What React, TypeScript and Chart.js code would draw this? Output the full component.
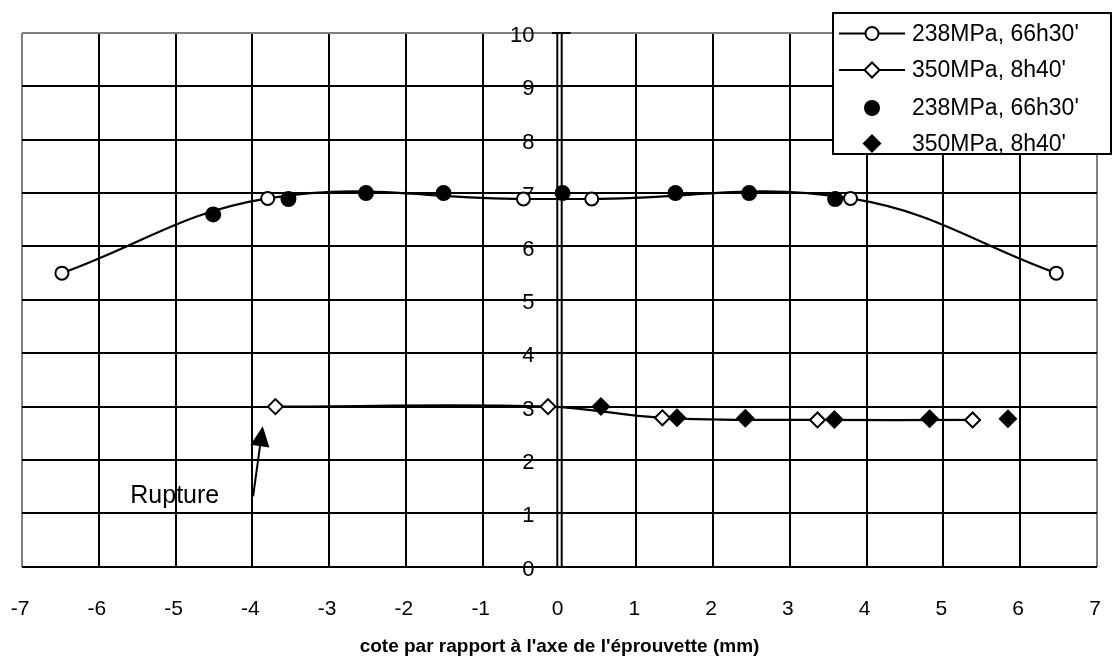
import React, { useEffect, useRef } from "react";
import { Chart, registerables } from "chart.js";

Chart.register(...registerables);

// ---- data ----
const openCircleX = [-6.48, -3.8, -0.47, 0.42, 3.79, 6.47];
const openCircleY = [5.5, 6.9, 6.89, 6.89, 6.9, 5.5];

const openDiamondX = [-3.7, -0.15, 1.34, 3.36, 5.38];
const openDiamondY = [3.0, 3.0, 2.79, 2.75, 2.75];

const filledCircleX = [-4.51, -3.53, -2.52, -1.51, 0.04, 1.51, 2.47, 3.59];
const filledCircleY = [6.6, 6.89, 7.0, 7.0, 7.0, 7.0, 7.0, 6.89];

const filledDiamondX = [0.54, 1.53, 2.42, 3.58, 4.82, 5.84];
const filledDiamondY = [3.0, 2.79, 2.78, 2.76, 2.77, 2.77];

const seriesLabels = ["238MPa, 66h30'", "350MPa, 8h40'", "238MPa, 66h30'", "350MPa, 8h40'"];

const xTickMin = -7;
const xTickMax = 7;
const yTickMin = 0;
const yTickMax = 10;

const xTitle = "cote par rapport à l'axe de l'éprouvette (mm)";
const annotationText = "Rupture";
// annotation anchors in data units
const annotationLabelAt = { x: -5.59, y: 1.2 };
const arrowFrom = { x: -3.99, y: 1.32 };
const arrowTo = { x: -3.865, y: 2.63 };

const FONT = "'Liberation Sans', Arial, Helvetica, sans-serif";

const zip = (xs: number[], ys: number[]) => xs.map((x, i) => ({ x, y: ys[i] }));

const overlayPlugin = {
  id: "overlay",
  beforeDatasetsDraw(chart: any) {
    const { ctx, scales, chartArea } = chart;
    const x = scales.x;
    const y = scales.y;
    const px = x.getPixelForValue(0);
    ctx.save();
    ctx.strokeStyle = "#000";
    ctx.lineWidth = 2;
    [px - 2.2, px + 2.2].forEach((xx) => {
      ctx.beginPath();
      ctx.moveTo(xx, chartArea.top);
      ctx.lineTo(xx, chartArea.bottom);
      ctx.stroke();
    });
    ctx.lineWidth = 2;
    for (let v = yTickMin; v <= yTickMax; v++) {
      const py = Math.round(y.getPixelForValue(v));
      ctx.beginPath();
      ctx.moveTo(px - 7.5, py);
      ctx.lineTo(px + 11, py);
      ctx.stroke();
    }
    // y tick labels, left of the central axis
    ctx.fillStyle = "#000";
    ctx.font = `22px ${FONT}`;
    ctx.textAlign = "right";
    ctx.textBaseline = "middle";
    y.ticks.forEach((t: any) => {
      ctx.fillText(String(t.value), px - 25, y.getPixelForValue(t.value) + 3);
    });
    ctx.restore();
  },
  afterDraw(chart: any) {
    const { ctx, scales } = chart;
    const x = scales.x;
    const y = scales.y;
    ctx.save();

    // ---- annotation ----
    ctx.fillStyle = "#000";
    ctx.font = `25px ${FONT}`;
    ctx.textBaseline = "alphabetic";
    ctx.textAlign = "left";
    ctx.fillText(annotationText, x.getPixelForValue(annotationLabelAt.x), y.getPixelForValue(annotationLabelAt.y));

    const ax0 = x.getPixelForValue(arrowFrom.x);
    const ay0 = y.getPixelForValue(arrowFrom.y);
    const ax1 = x.getPixelForValue(arrowTo.x);
    const ay1 = y.getPixelForValue(arrowTo.y);
    const ang = Math.atan2(ay1 - ay0, ax1 - ax0);
    const headLen = 20;
    const headHalf = 9.5;
    const bx = ax1 - headLen * Math.cos(ang);
    const by = ay1 - headLen * Math.sin(ang);
    ctx.strokeStyle = "#000";
    ctx.lineWidth = 2;
    ctx.beginPath();
    ctx.moveTo(ax0, ay0);
    ctx.lineTo(bx, by);
    ctx.stroke();
    ctx.beginPath();
    ctx.moveTo(ax1, ay1);
    ctx.lineTo(bx + headHalf * Math.sin(ang), by - headHalf * Math.cos(ang));
    ctx.lineTo(bx - headHalf * Math.sin(ang), by + headHalf * Math.cos(ang));
    ctx.closePath();
    ctx.fill();

    // ---- legend ----
    const lx = 833, ly = 13, lw = 278, lh = 141;
    ctx.fillStyle = "#fff";
    ctx.fillRect(lx, ly, lw, lh);
    ctx.strokeStyle = "#000";
    ctx.lineWidth = 2;
    ctx.strokeRect(lx, ly, lw, lh);
    const rows = [33.5, 70, 108, 143.5];
    const ds = chart.data.datasets;
    ds.forEach((d: any, i: number) => {
      const ry = rows[i];
      const mx = 872;
      if (d.showLine) {
        ctx.strokeStyle = "#000";
        ctx.lineWidth = 2;
        ctx.beginPath();
        ctx.moveTo(839, ry);
        ctx.lineTo(905, ry);
        ctx.stroke();
      }
      ctx.beginPath();
      const r = d.pointRadius;
      if (d.pointStyle === "circle") {
        ctx.arc(mx, ry, r, 0, Math.PI * 2);
      } else {
        ctx.moveTo(mx, ry - r);
        ctx.lineTo(mx + r, ry);
        ctx.lineTo(mx, ry + r);
        ctx.lineTo(mx - r, ry);
        ctx.closePath();
      }
      ctx.fillStyle = d.pointBackgroundColor;
      ctx.fill();
      if (d.pointBorderWidth > 0) {
        ctx.lineWidth = d.pointBorderWidth;
        ctx.strokeStyle = d.pointBorderColor;
        ctx.stroke();
      }
      ctx.fillStyle = "#000";
      ctx.font = `23px ${FONT}`;
      ctx.textBaseline = "middle";
      ctx.textAlign = "left";
      ctx.fillText(d.label, 912, ry + 1);
    });
    ctx.restore();
  },
};

const zeroPad = (s: any) => {
  s.paddingLeft = 0;
  s.paddingRight = 0;
  s.paddingTop = 0;
  s.paddingBottom = 0;
};

export default function App() {
  const ref = useRef<HTMLCanvasElement | null>(null);
  useEffect(() => {
    if (!ref.current) return;
    const chart = new Chart(ref.current, {
      type: "scatter",
      data: {
        datasets: [
          {
            label: seriesLabels[0],
            data: zip(openCircleX, openCircleY),
            showLine: true,
            tension: 0.4,
            borderColor: "#000",
            borderWidth: 2.2,
            pointStyle: "circle",
            pointRadius: 6.5,
            pointBackgroundColor: "#fff",
            pointBorderColor: "#000",
            pointBorderWidth: 2,
          },
          {
            label: seriesLabels[1],
            data: zip(openDiamondX, openDiamondY),
            showLine: true,
            tension: 0.4,
            borderColor: "#000",
            borderWidth: 2.2,
            pointStyle: "rectRot",
            pointRadius: 7.5,
            pointBackgroundColor: "#fff",
            pointBorderColor: "#000",
            pointBorderWidth: 2,
          },
          {
            label: seriesLabels[2],
            data: zip(filledCircleX, filledCircleY),
            showLine: false,
            pointStyle: "circle",
            pointRadius: 8,
            pointBackgroundColor: "#000",
            pointBorderColor: "#000",
            pointBorderWidth: 0,
          },
          {
            label: seriesLabels[3],
            data: zip(filledDiamondX, filledDiamondY),
            showLine: false,
            pointStyle: "rectRot",
            pointRadius: 9.5,
            pointBackgroundColor: "#000",
            pointBorderColor: "#000",
            pointBorderWidth: 0,
          },
        ],
      },
      options: {
        animation: false,
        responsive: false,
        devicePixelRatio: 1,
        layout: { padding: { left: 22, right: 16, top: 33, bottom: 0 } },
        plugins: {
          legend: { display: false },
          tooltip: { enabled: false },
        },
        scales: {
          x: {
            type: "linear",
            position: "bottom",
            min: xTickMin,
            max: xTickMax,
            ticks: {
              stepSize: 1,
              autoSkip: false,
              maxRotation: 0,
              color: "#000",
              padding: 30,
              labelOffset: -2,
              font: { family: FONT, size: 21 },
            },
            grid: {
              lineWidth: 2,
              drawTicks: false,
              color: (c: any) => {
                const v = c.tick?.value;
                if (v === xTickMin || v === xTickMax) return "#808080";
                if (v === 0) return "rgba(0,0,0,0)";
                return "#000";
              },
            },
            border: { display: false },
            title: {
              display: true,
              text: xTitle,
              color: "#000",
              font: { family: FONT, size: 19, weight: "bold" },
              padding: { top: 0, bottom: 2 },
            },
            afterFit: (s: any) => {
              s.height = 93.3;
              zeroPad(s);
            },
          },
          y: {
            type: "linear",
            position: { x: 0 },
            min: yTickMin,
            max: yTickMax,
            ticks: {
              stepSize: 1,
              display: false,
            },
            grid: {
              lineWidth: 2,
              drawTicks: false,
              color: (c: any) => (c.tick?.value === yTickMax ? "#808080" : "#000"),
            },
            border: { display: false },
            afterFit: (s: any) => {
              zeroPad(s);
            },
          },
        },
      } as any,
      plugins: [overlayPlugin],
    });
    return () => chart.destroy();
  }, []);
  return (
    <div style={{ position: "fixed", left: 0, top: 0, width: 1113, height: 660, background: "#fff" }}>
      <canvas ref={ref} width={1113} height={660} style={{ display: "block" }} />
    </div>
  );
}
